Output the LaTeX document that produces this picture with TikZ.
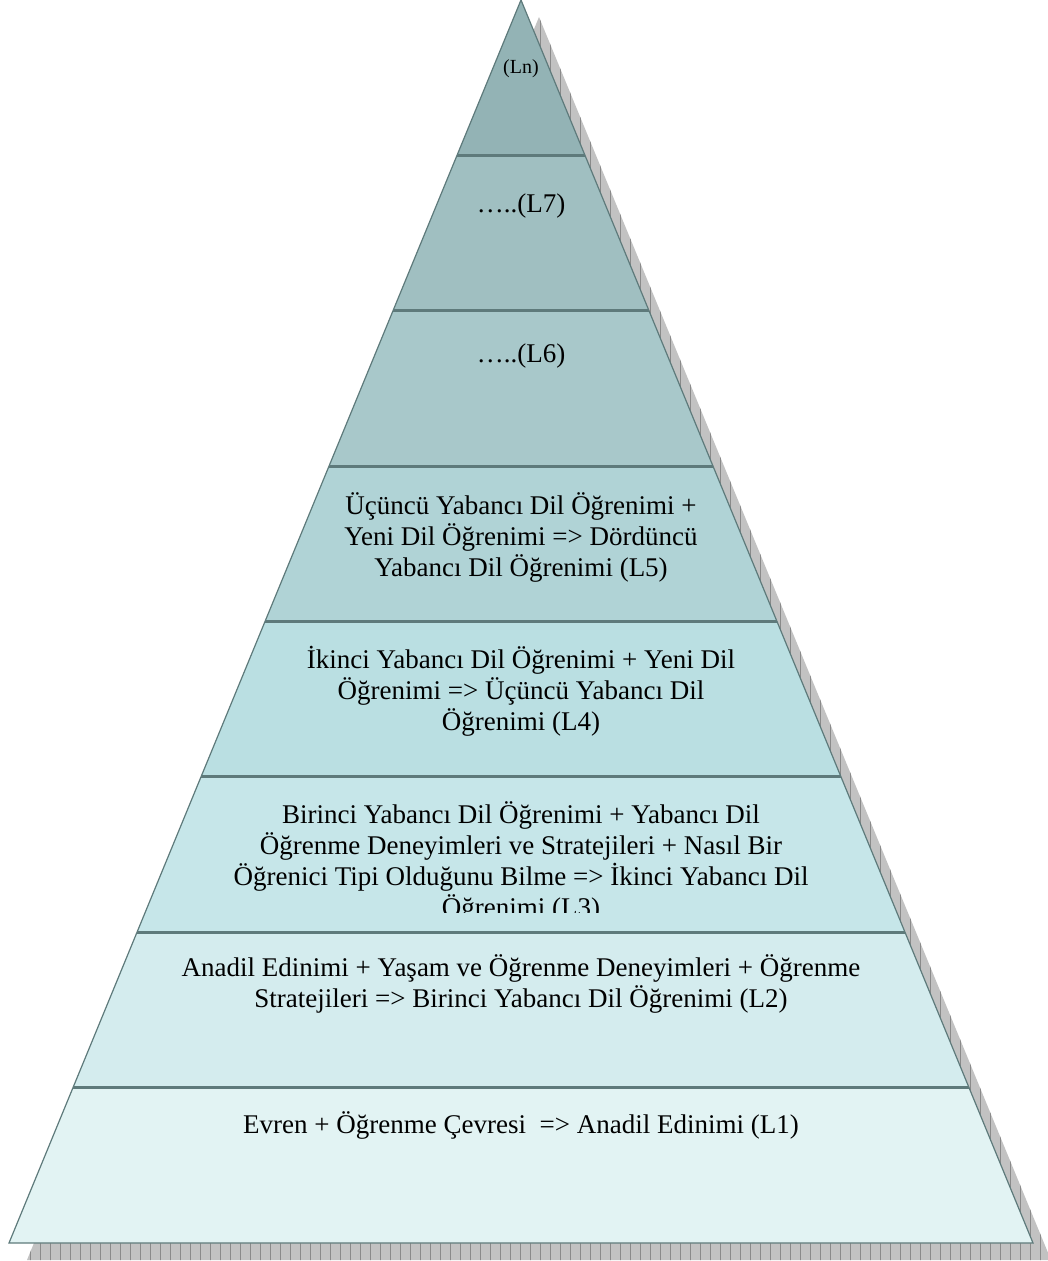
\documentclass[tikz,border=0pt]{standalone}
\usepackage{fontspec}
\setmainfont{Liberation Serif}
\definecolor{layerLn}{HTML}{93B3B5}
\definecolor{layerLseven}{HTML}{A0BFC1}
\definecolor{layerLsix}{HTML}{A8C8CA}
\definecolor{layerLfive}{HTML}{B0D3D6}
\definecolor{layerLfour}{HTML}{BADFE2}
\definecolor{layerLthree}{HTML}{C6E6E9}
\definecolor{layerLtwo}{HTML}{D4ECEE}
\definecolor{layerLone}{HTML}{E2F3F3}
\definecolor{sepline}{HTML}{5E7A7B}
\definecolor{shadowfill}{HTML}{C2C2C2}
\definecolor{shadowgrid}{HTML}{8A8A8A}
\tikzset{
  layertext/.style={anchor=base, align=center, inner sep=0pt,
    font=\fontsize{27}{31}\selectfont},
  edge/.style={draw=sepline, line width=1.2pt, line join=miter},
}

\begin{document}
\begin{tikzpicture}[x=1pt,y=-1pt]
    \useasboundingbox (0,0) rectangle (1048,1261);
    \coordinate (apex) at (521,0);
    \coordinate (bl) at (9,1243);
    \coordinate (br) at (1033,1243);

    % shadow
    \begin{scope}
        \clip ([shift={(18,17)}]apex) -- ([shift={(18,17)}]br) -- ([shift={(18,17)}]bl) -- cycle;
        \fill[shadowfill] (0,0) rectangle (1048,1261);
        \draw[shadowgrid, line width=0.9pt, step=10] (0,0) grid (1050,1270);
    \end{scope}

    % layers
    \foreach \i/\c in {0/layerLn,1/layerLseven,2/layerLsix,3/layerLfive,
                       4/layerLfour,5/layerLthree,6/layerLtwo,7/layerLone}{
        \pgfmathsetmacro{\ya}{\i*155.375}
        \pgfmathsetmacro{\yb}{(\i+1)*155.375}
        \fill[\c] ({521-0.4119*\ya},\ya) -- ({521+0.4119*\ya},\ya)
            -- ({521+0.4119*\yb},\yb) -- ({521-0.4119*\yb},\yb) -- cycle;
    }
    \foreach \i in {1,...,7}{
        \pgfmathsetmacro{\ya}{\i*155.375}
        \draw[sepline, line width=3pt] ({521-0.4119*\ya},\ya) -- ({521+0.4119*\ya},\ya);
    }
    \draw[edge] (apex) -- (br) -- (bl) -- cycle;

    % texts (base = baseline of the last line)
    \node[layertext, font=\fontsize{20}{24}\selectfont] (ln) at (521,73) {(Ln)};
    \node[layertext] (lseven) at (521,212) {…..(L7)};
    \node[layertext] (lsix) at (521,362) {…..(L6)};
    \node[layertext] (lfive) at (521,576) {Üçüncü Yabancı Dil Öğrenimi +\\
        Yeni Dil Öğrenimi => Dördüncü\\ Yabancı Dil Öğrenimi (L5)};
    \node[layertext] (lfour) at (521,730) {İkinci Yabancı Dil Öğrenimi + Yeni Dil\\
        Öğrenimi => Üçüncü Yabancı Dil\\ Öğrenimi (L4)};
    \begin{scope}
        \clip (0,777) rectangle (1048,912);
        \node[layertext] (lthree) at (521,916) {Birinci Yabancı Dil Öğrenimi + Yabancı Dil\\
            Öğrenme Deneyimleri ve Stratejileri + Nasıl Bir\\
            Öğrenici Tipi Olduğunu Bilme => İkinci Yabancı Dil\\ Öğrenimi (L3)};
    \end{scope}
    \node[layertext] (ltwo) at (521,1007) {Anadil Edinimi + Yaşam ve Öğrenme Deneyimleri + Öğrenme\\
        Stratejileri => Birinci Yabancı Dil Öğrenimi (L2)};
    \node[layertext] (lone) at (521,1133) {Evren + Öğrenme Çevresi\ \ => Anadil Edinimi (L1)};
\end{tikzpicture}
\end{document}
